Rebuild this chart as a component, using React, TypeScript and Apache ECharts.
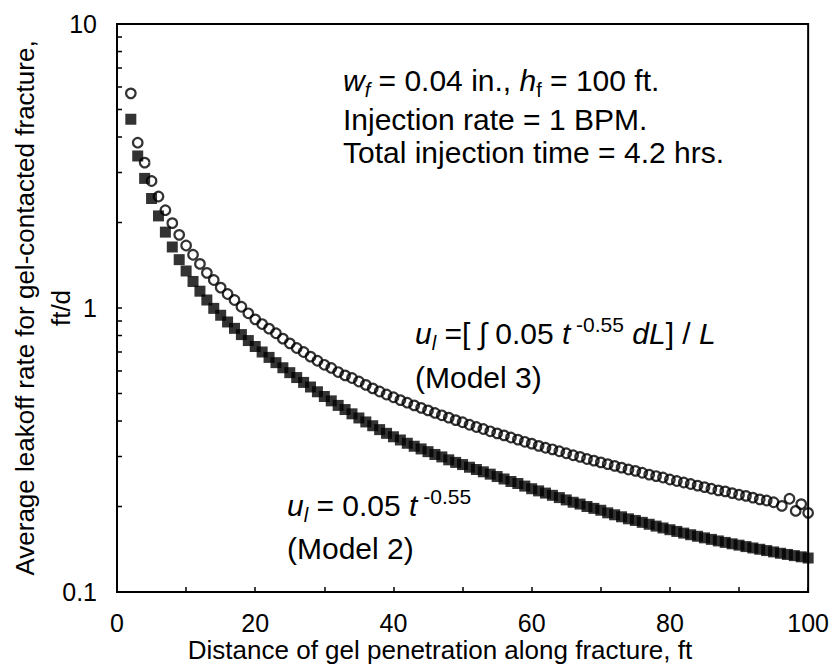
import React, { useEffect, useRef } from "react";
import * as echarts from "echarts";

// Distance of gel penetration along fracture, ft (filled squares, Model 2)
const distanceModel2 = [
  2, 3, 4, 5, 6, 7, 8, 9, 10, 11,
  12, 13, 14, 15, 16, 17, 18, 19, 20, 21,
  22, 23, 24, 25, 26, 27, 28, 29, 30, 31,
  32, 33, 34, 35, 36, 37, 38, 39, 40, 41,
  42, 43, 44, 45, 46, 47, 48, 49, 50, 51,
  52, 53, 54, 55, 56, 57, 58, 59, 60, 61,
  62, 63, 64, 65, 66, 67, 68, 69, 70, 71,
  72, 73, 74, 75, 76, 77, 78, 79, 80, 81,
  82, 83, 84, 85, 86, 87, 88, 89, 90, 91,
  92, 93, 94, 95, 96, 97, 98, 99, 100,
];
// Average leakoff rate, ft/d  (u_l = 0.05 t^-0.55, Model 2)
const leakoffModel2 = [
  4.62, 3.43, 2.86, 2.43, 2.11, 1.85, 1.64, 1.48, 1.35, 1.24,
  1.146, 1.067, 0.997, 0.943, 0.893, 0.848, 0.806, 0.768, 0.732, 0.7,
  0.67, 0.642, 0.616, 0.592, 0.569, 0.547, 0.527, 0.507, 0.488, 0.471,
  0.454, 0.439, 0.424, 0.41, 0.397, 0.385, 0.373, 0.362, 0.352, 0.343,
  0.334, 0.326, 0.319, 0.312, 0.305, 0.299, 0.292, 0.286, 0.281, 0.275,
  0.27, 0.265, 0.26, 0.255, 0.25, 0.245, 0.241, 0.236, 0.231, 0.227,
  0.223, 0.219, 0.215, 0.211, 0.207, 0.204, 0.2, 0.197, 0.194, 0.19,
  0.187, 0.184, 0.181, 0.1786, 0.1759, 0.1732, 0.1706, 0.1681, 0.1657, 0.1634,
  0.1612, 0.1591, 0.1571, 0.1551, 0.1532, 0.1513, 0.1495, 0.1478, 0.1462, 0.1445,
  0.1429, 0.1414, 0.1399, 0.1384, 0.1369, 0.1356, 0.1343, 0.133, 0.1317,
];

// Open circles, Model 3
const distanceModel3 = [
  2, 3, 4, 5, 6, 7, 8, 9, 10, 11,
  12, 13, 14, 15, 16, 17, 18, 19, 20, 21,
  22, 23, 24, 25, 26, 27, 28, 29, 30, 31,
  32, 33, 34, 35, 36, 37, 38, 39, 40, 41,
  42, 43, 44, 45, 46, 47, 48, 49, 50, 51,
  52, 53, 54, 55, 56, 57, 58, 59, 60, 61,
  62, 63, 64, 65, 66, 67, 68, 69, 70, 71,
  72, 73, 74, 75, 76, 77, 78, 79, 80, 81,
  82, 83, 84, 85, 86, 87, 88, 89, 90, 91,
  92, 93, 94, 95, 96.2, 97.3, 98.2, 99, 100,
];
// Average leakoff rate, ft/d  (u_l = [∫0.05 t^-0.55 dL] / L, Model 3)
const leakoffModel3 = [
  5.7, 3.82, 3.25, 2.8, 2.47, 2.21, 1.99, 1.81, 1.66, 1.54,
  1.43, 1.33, 1.255, 1.18, 1.12, 1.067, 1.01, 0.958, 0.912, 0.878,
  0.846, 0.815, 0.78, 0.751, 0.723, 0.7, 0.674, 0.652, 0.631, 0.615,
  0.595, 0.579, 0.567, 0.551, 0.536, 0.521, 0.508, 0.496, 0.485, 0.474,
  0.464, 0.454, 0.445, 0.436, 0.427, 0.419, 0.411, 0.403, 0.396, 0.388,
  0.381, 0.375, 0.368, 0.362, 0.356, 0.35, 0.344, 0.338, 0.333, 0.327,
  0.322, 0.318, 0.313, 0.308, 0.303, 0.299, 0.294, 0.29, 0.286, 0.282,
  0.278, 0.274, 0.27, 0.267, 0.263, 0.259, 0.256, 0.253, 0.249, 0.246,
  0.243, 0.24, 0.237, 0.234, 0.231, 0.228, 0.226, 0.223, 0.22, 0.218,
  0.215, 0.212, 0.21, 0.207, 0.201, 0.213, 0.193, 0.204, 0.19,
];

const xLabelValues = [0, 20, 40, 60, 80, 100];
const yMinorTickValues = [0.2, 0.3, 0.4, 0.5, 0.6, 0.7, 0.8, 0.9, 2, 3, 4, 5, 6, 7, 8, 9];

const FONT = "'Liberation Sans', Arial, Helvetica, sans-serif";
const ANN = 30;

export default function App() {
  const ref = useRef<HTMLDivElement>(null);

  useEffect(() => {
    document.body.style.margin = "0";
    const chart = echarts.init(ref.current!, null, { renderer: "svg" });

    const squares = distanceModel2.map((d, i) => [d, leakoffModel2[i]]);
    const circles = distanceModel3.map((d, i) => [d, leakoffModel3[i]]);

    const rich = {
      n: { fontSize: ANN, fontFamily: FONT, verticalAlign: "middle", lineHeight: ANN },
      i: { fontStyle: "italic", fontSize: ANN, fontFamily: FONT, verticalAlign: "middle", lineHeight: ANN },
      isub: { fontStyle: "italic", fontSize: 20, fontFamily: FONT, verticalAlign: "bottom", height: 11, lineHeight: ANN },
      sub: { fontSize: 20, fontFamily: FONT, verticalAlign: "bottom", height: 11, lineHeight: ANN },
      sup: { fontSize: 21, fontFamily: FONT, verticalAlign: "top", height: 12, lineHeight: ANN },
    };

    const txt = (x: number, y: number, text: string) => ({
      type: "text",
      x,
      y,
      silent: true,
      style: {
        text,
        fill: "#000",
        fontSize: ANN,
        fontFamily: FONT,
        lineHeight: ANN,
        verticalAlign: "middle",
        align: "left",
        rich,
      },
    });

    chart.setOption({
      animation: false,
      backgroundColor: "#ffffff",
      grid: {
        left: 117,
        top: 24,
        width: 692,
        height: 568,
        show: true,
        borderColor: "#000",
        borderWidth: 2,
        backgroundColor: "transparent",
      },
      xAxis: {
        type: "value",
        min: 0,
        max: 100,
        interval: 10,
        axisLine: { onZero: false, lineStyle: { color: "#000", width: 2 } },
        axisTick: { inside: true, length: 5, lineStyle: { color: "#000", width: 1.5 } },
        axisLabel: {
          formatter: (v: number) => (xLabelValues.includes(v) ? String(v) : ""),
          fontSize: 25,
          fontFamily: FONT,
          color: "#000",
          margin: 18,
        },
        splitLine: { show: false },
      },
      yAxis: {
        type: "log",
        logBase: 10,
        min: 0.1,
        max: 10,
        axisLine: { show: true, lineStyle: { color: "#000", width: 2 } },
        axisTick: { show: true, inside: true, length: 5, lineStyle: { color: "#000", width: 1.5 } },
        axisLabel: {
          fontSize: 25,
          fontFamily: FONT,
          color: "#000",
          margin: 20,
          formatter: (v: number) => (v < 1 ? String(Number(v.toFixed(1))) : String(Math.round(v))),
        },
        splitLine: { show: false },
      },
      series: [
        {
          name: "Model 2",
          type: "scatter",
          symbol: "rect",
          symbolSize: 11,
          itemStyle: { color: "#000" },
          data: squares,
          z: 3,
        },
        {
          name: "Model 3",
          type: "scatter",
          symbol: "circle",
          symbolSize: 9.5,
          itemStyle: { color: "rgba(0,0,0,0)", borderColor: "#000", borderWidth: 2.2 },
          data: circles,
          z: 4,
        },
        {
          name: "minor ticks",
          type: "custom",
          silent: true,
          clip: false,
          data: yMinorTickValues.map((v) => [0, v]),
          renderItem: (params: any, api: any) => {
            const p = api.coord([0, api.value(1)]);
            return {
              type: "line",
              shape: { x1: p[0], y1: p[1], x2: p[0] + 5, y2: p[1] },
              style: { stroke: "#000", lineWidth: 1.5 },
            };
          },
          z: 5,
        },
      ],
      graphic: [
        txt(343, 80, "{i|w}{isub|f}{n| = 0.04 in., }{i|h}{sub|f}{n| = 100 ft.}"),
        txt(343, 119, "{n|Injection rate = 1 BPM.}"),
        txt(343, 152, "{n|Total injection time = 4.2 hrs.}"),
        txt(415, 333, "{i|u}{isub|l}{n| =[ ∫ 0.05 }{i|t}{sup| -0.55}{n| }{i|dL}{n|] / }{i|L}"),
        txt(415, 377, "{n|(Model 3)}"),
        txt(287, 505, "{i|u}{isub|l}{n| = 0.05 }{i|t}{sup| -0.55}"),
        txt(287, 548, "{n|(Model 2)}"),
        {
          type: "text",
          x: 440,
          y: 650,
          silent: true,
          style: {
            text: "Distance of gel penetration along fracture, ft",
            fill: "#000",
            fontSize: 26,
            fontFamily: FONT,
            align: "center",
            verticalAlign: "middle",
          },
        },
        {
          type: "text",
          x: 25,
          y: 308,
          rotation: Math.PI / 2,
          silent: true,
          style: {
            text: "Average leakoff rate for gel-contacted fracture,",
            fill: "#000",
            fontSize: 26,
            fontFamily: FONT,
            align: "center",
            verticalAlign: "middle",
          },
        },
        {
          type: "text",
          x: 61,
          y: 308,
          rotation: Math.PI / 2,
          silent: true,
          style: {
            text: "ft/d",
            fill: "#000",
            fontSize: 26,
            fontFamily: FONT,
            align: "center",
            verticalAlign: "middle",
          },
        },
      ],
    });

    return () => chart.dispose();
  }, []);

  return (
    <div
      ref={ref}
      style={{ position: "absolute", left: 0, top: 0, width: 832, height: 667 }}
    />
  );
}
